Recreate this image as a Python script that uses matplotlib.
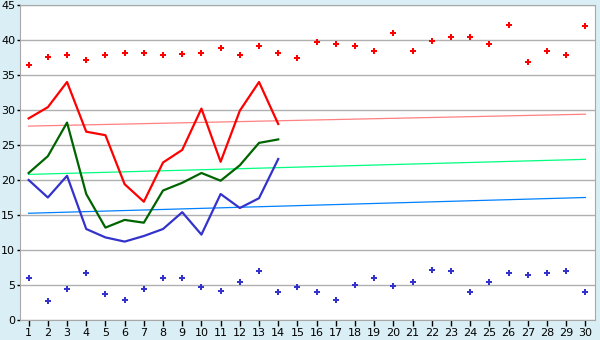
import matplotlib

matplotlib.use("Agg")
import matplotlib.pyplot as plt
import numpy as np

days = np.arange(1, 31)
line_days = np.arange(1, 15)

red_points = [36.4, 37.6, 37.8, 37.2, 37.8, 38.2, 38.2, 37.8, 38.0, 38.2,
              38.8, 37.8, 39.2, 38.2, 37.4, 39.7, 39.4, 39.2, 38.4, 41.0,
              38.5, 39.8, 40.4, 40.4, 39.4, 42.2, 36.8, 38.4, 37.8, 42.0]
blue_points = [6.0, 2.7, 4.4, 6.7, 3.7, 2.8, 4.4, 6.0, 6.0, 4.7,
               4.2, 5.4, 7.0, 4.0, 4.7, 4.0, 2.8, 5.0, 6.0, 4.8,
               5.4, 7.2, 7.0, 4.0, 5.4, 6.7, 6.4, 6.7, 7.0, 4.0]

red_line = [28.8, 30.4, 34.0, 26.9, 26.4, 19.4, 16.9, 22.5, 24.3, 30.2,
            22.6, 29.9, 34.0, 28.0]
green_line = [21.0, 23.4, 28.2, 18.0, 13.2, 14.3, 13.9, 18.5, 19.6, 21.0,
              19.9, 22.1, 25.3, 25.8]
blue_line = [20.0, 17.5, 20.6, 13.0, 11.8, 11.2, 12.0, 13.0, 15.4, 12.2,
             18.0, 16.0, 17.4, 23.0]

# trend lines: (start, end) values at day 1 and day 30
trend_x = [1, 30]
red_trend = [27.7, 29.4]
green_trend = [20.8, 22.95]
blue_trend = [15.25, 17.5]

bg = "#d9eef5"
fig = plt.figure(figsize=(6, 3.4), dpi=100, facecolor=bg)
ax = fig.add_axes([20 / 600, 20 / 340, 575 / 600, 315 / 340])
ax.set_facecolor("white")

ax.plot(trend_x, red_trend, color="#ff8080", lw=0.9, zorder=2)
ax.plot(trend_x, green_trend, color="#00ff80", lw=0.9, zorder=2)
ax.plot(trend_x, blue_trend, color="#0080ff", lw=0.9, zorder=2)

ax.plot(line_days, red_line, color="#ff0000", lw=1.6, zorder=3)
ax.plot(line_days, green_line, color="#006400", lw=1.6, zorder=3)
ax.plot(line_days, blue_line, color="#3333cc", lw=1.6, zorder=3)

ax.plot(days, red_points, "P", color="#ff0000", ms=4.6, mew=0, ls="none", zorder=4)
ax.plot(days, blue_points, "P", color="#3333cc", ms=4.6, mew=0, ls="none", zorder=4)

ax.set_xlim(0.55, 30.5)
ax.set_ylim(0, 45)
ax.set_xticks(days)
ax.set_yticks(np.arange(0, 46, 5))
ax.yaxis.grid(True, color="#b0b0b0", lw=1)
ax.set_axisbelow(True)
for s in ax.spines.values():
    s.set_color("#a8a8a8")
ax.tick_params(axis="both", colors="#000000", labelsize=8, width=1)
ax.tick_params(axis="x", length=4, pad=2)
ax.tick_params(axis="y", length=2.5, pad=1)

fig.savefig("out.png", dpi=100, facecolor=bg)
